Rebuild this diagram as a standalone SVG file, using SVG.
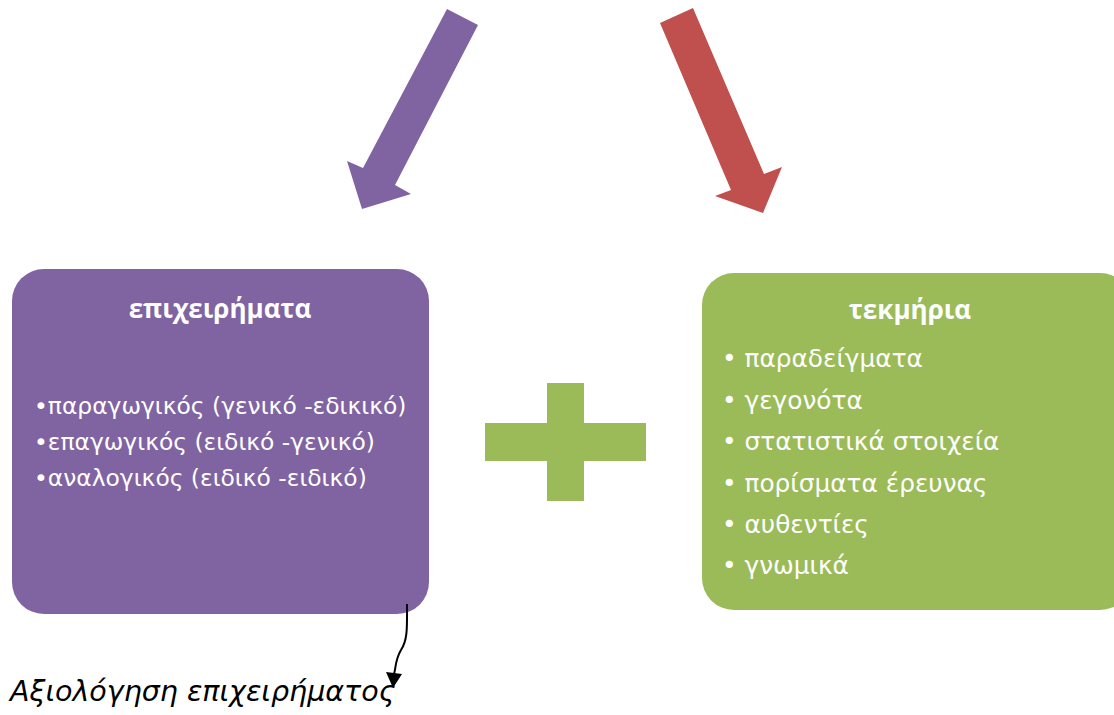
<svg xmlns="http://www.w3.org/2000/svg" width="1114" height="715" viewBox="0 0 1114 715">
<style>
.title{font-family:"Open Sans","Noto Sans",sans-serif;font-weight:bold;font-size:26px;fill:#fff;text-anchor:middle}
.body{font-family:"DejaVu Sans",Verdana,sans-serif;font-size:23.4px;fill:#fff}
.body2{font-family:"DejaVu Sans",Verdana,sans-serif;font-size:24.8px;fill:#fff}
.lbl{font-family:"DejaVu Sans",Verdana,sans-serif;font-style:italic;font-size:28.5px;fill:#000}
</style>
<rect width="1114" height="715" fill="#fff"/>
<g id="arrow-purple">
<polygon points="447,9 478,25 395,185 411,194 362,209 347,161 363,168" fill="#8064A2"/>
</g>
<g id="arrow-red">
<polygon points="660,23 693,8 764,174 782,167 763,213 715,196 731,190" fill="#C0504D"/>
</g>
<g id="node-arguments">
<rect x="12" y="269" width="417" height="345" rx="32" ry="32" fill="#8064A2"/>
<text class="title" x="220" y="318">επιχειρήματα</text>
<text class="body" x="34" y="414">•παραγωγικός (γενικό -εδικικό)</text>
<text class="body" x="34" y="450">•επαγωγικός (ειδικό -γενικό)</text>
<text class="body" x="34" y="486">•αναλογικός (ειδικό -ειδικό)</text>
</g>
<g id="node-plus">
<rect x="485" y="423" width="161" height="38" fill="#9BBB59"/>
<rect x="547" y="383" width="37" height="118" fill="#9BBB59"/>
</g>
<g id="node-evidence">
<rect x="702" y="273" width="430" height="337" rx="32" ry="32" fill="#9BBB59"/>
<text class="title" x="910" y="319">τεκμήρια</text>
<text class="body2" x="722" y="367">• παραδείγματα</text>
<text class="body2" x="722" y="409">• γεγονότα</text>
<text class="body2" x="722" y="450">• στατιστικά στοιχεία</text>
<text class="body2" x="722" y="492">• πορίσματα έρευνας</text>
<text class="body2" x="722" y="533">• αυθεντίες</text>
<text class="body2" x="722" y="574">• γνωμικά</text>
</g>
<g id="connectors">
<path d="M407,604 C407,625 408,640 401,650 C395,660 396,668 394,674" fill="none" stroke="#000" stroke-width="2"/>
<polygon points="386,672 402,674 393,688" fill="#000"/>
</g>
<g id="label-evaluation">
<text class="lbl" x="10" y="701">Αξιολόγηση επιχειρήματος</text>
</g>
</svg>
